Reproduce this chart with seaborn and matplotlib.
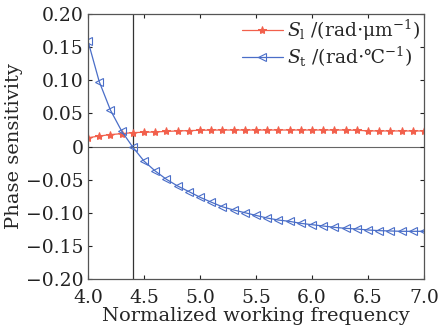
import matplotlib
matplotlib.use("Agg")
import matplotlib.pyplot as plt
import seaborn as sns
import pandas as pd
import numpy as np
from matplotlib.ticker import FuncFormatter

freq = [4.0, 4.1, 4.2, 4.3, 4.4, 4.5, 4.6, 4.7, 4.8, 4.9, 5.0, 5.1, 5.2, 5.3, 5.4, 5.5,
        5.6, 5.7, 5.8, 5.9, 6.0, 6.1, 6.2, 6.3, 6.4, 6.5, 6.6, 6.7, 6.8, 6.9, 7.0]
s_l = [0.0133, 0.0158, 0.018, 0.0194, 0.021, 0.0215, 0.022, 0.0228, 0.0235, 0.024, 0.0245,
       0.0248, 0.0249, 0.0249, 0.0249, 0.0249, 0.0249, 0.0249, 0.0249, 0.0249, 0.0249,
       0.0249, 0.0249, 0.0249, 0.0245, 0.0236, 0.0235, 0.0235, 0.0235, 0.0235, 0.0235]
s_t = [0.159, 0.098, 0.055, 0.0234, -0.001, -0.022, -0.037, -0.0495, -0.0596, -0.068,
       -0.0766, -0.084, -0.091, -0.0958, -0.0999, -0.104, -0.108, -0.111, -0.113, -0.116,
       -0.118, -0.120, -0.122, -0.1235, -0.1245, -0.126, -0.127, -0.1275, -0.128, -0.128,
       -0.128]
vline_x = 4.4
labels = [r'$S_{\mathrm{l}}$ /(rad$\cdot$μm$^{-1}$)', r'$S_{\mathrm{t}}$ /(rad$\cdot$℃$^{-1}$)']

sns.set_style("ticks")
plt.rcParams['font.family'] = ['DejaVu Serif', 'DejaVu Sans']
plt.rcParams['mathtext.fontset'] = 'dejavuserif'

df = pd.DataFrame({"freq": freq * 2, "val": s_l + s_t,
                   "series": [labels[0]] * len(freq) + [labels[1]] * len(freq)})

fig = plt.figure(figsize=(4.39, 3.30), dpi=100)
ax = fig.add_axes([0.2005, 0.1545, 0.7655, 0.803])

red = "#f2604c"
blue = "#4a6ec8"
sns.lineplot(data=df[df.series == labels[0]], x="freq", y="val", ax=ax, color=red,
             marker="*", markersize=6, markeredgecolor=red, linewidth=0.9, label=labels[0])
sns.lineplot(data=df[df.series == labels[1]], x="freq", y="val", ax=ax, color=blue,
             marker="<", markersize=6, markerfacecolor="none", markeredgecolor=blue,
             markeredgewidth=0.8, linewidth=0.9, label=labels[1])

ax.axvline(vline_x, color="#333333", linewidth=0.9, zorder=0)
ax.axhline(0, color="#666666", linewidth=0.8, zorder=0)

ax.set_xlim(4.0, 7.0)
ax.set_ylim(-0.2, 0.2)
ax.set_xticks(np.arange(4.0, 7.01, 0.5))
ax.set_yticks(np.arange(-0.2, 0.201, 0.05))

def yfmt(v, pos):
    if abs(v) < 1e-9:
        return "0"
    s = f"{abs(v):.2f}"
    return ("\u2212" + s) if v < 0 else s

ax.yaxis.set_major_formatter(FuncFormatter(yfmt))
ax.xaxis.set_major_formatter(FuncFormatter(lambda v, p: f"{v:.1f}"))
ax.tick_params(direction="in", top=True, right=True, labelsize=13.5, length=3,
               width=0.8, colors="#222222", pad=3)
ax.tick_params(axis="x", pad=7)
for sp in ax.spines.values():
    sp.set_color("#555555")
    sp.set_linewidth(0.9)

ax.set_xlabel("Normalized working frequency", fontsize=14, labelpad=0)
ax.set_ylabel("Phase sensitivity", fontsize=14, labelpad=2)

leg = ax.legend(loc="upper right", frameon=False, fontsize=13.5, handlelength=2.2,
                handletextpad=0.2, borderaxespad=0.1, labelspacing=0.1,
                borderpad=0.1)

fig.savefig("out.png", dpi=100)
